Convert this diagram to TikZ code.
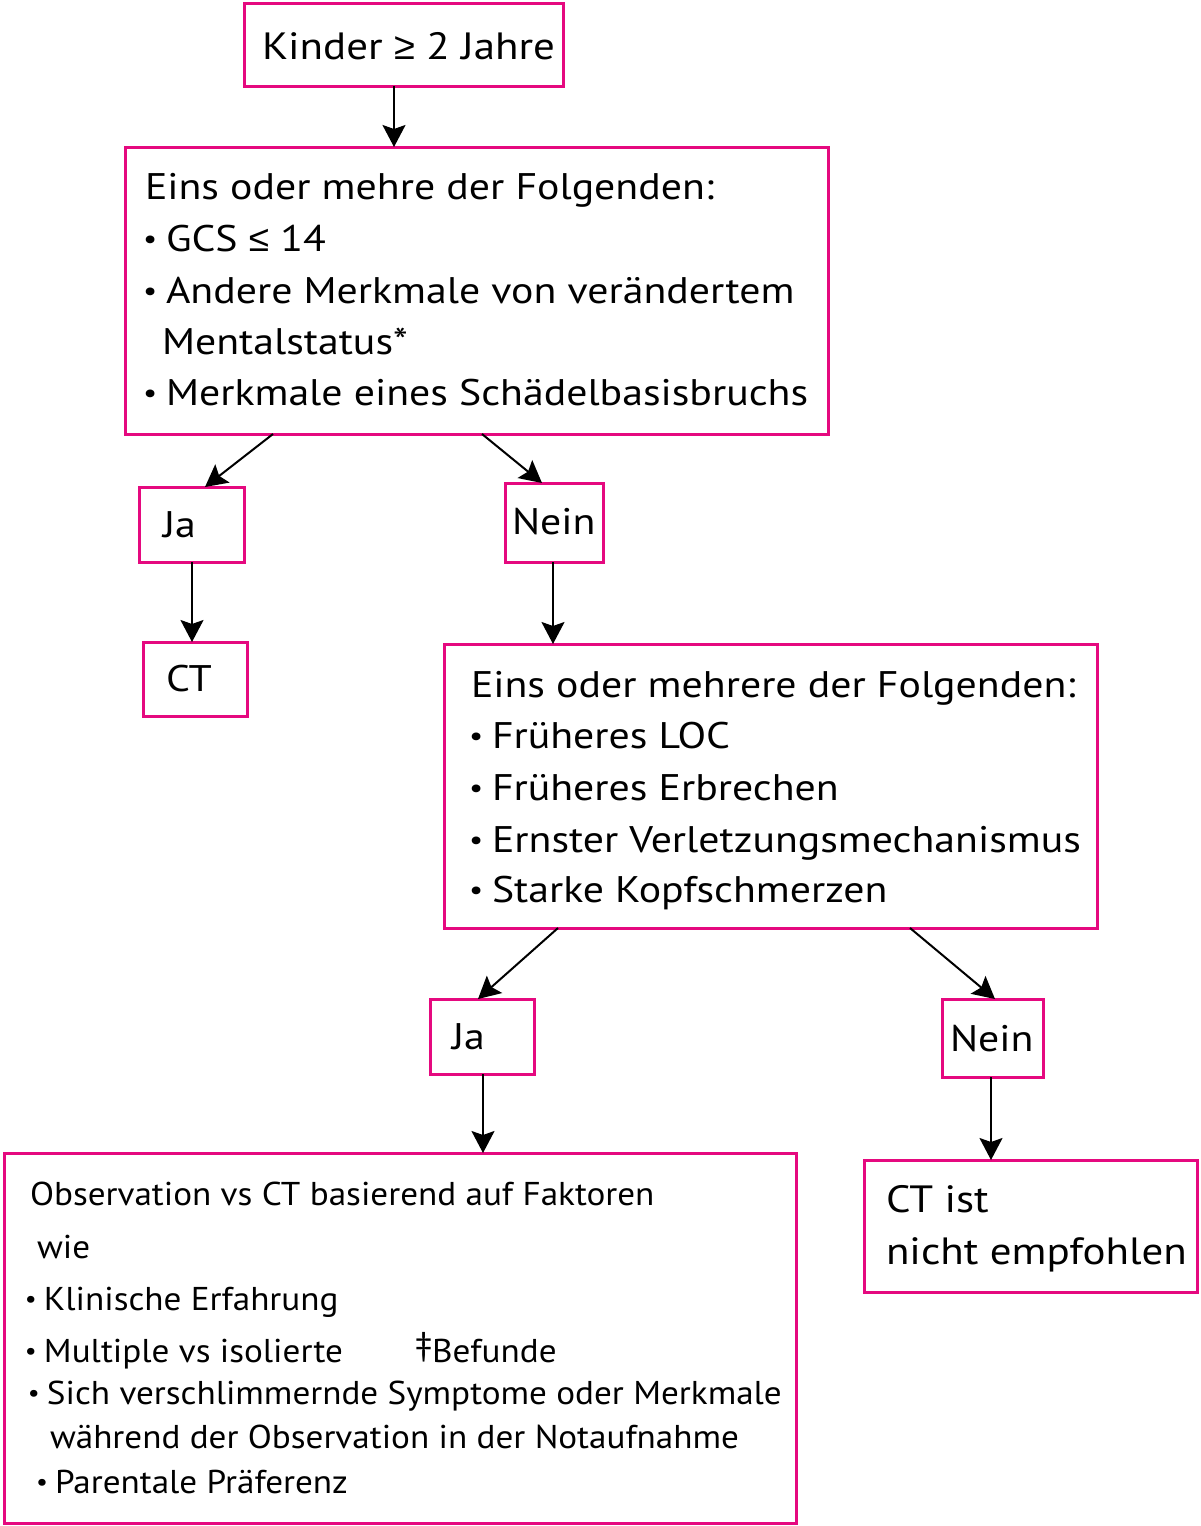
\documentclass[tikz,border=0pt]{standalone}
\usepackage{fontspec}
\setmainfont[FakeStretch=1.13]{PT Sans}
\newfontfamily\smallfont[FakeStretch=1.065]{PT Sans}
\newfontfamily\symfont{Liberation Sans}
\usetikzlibrary{arrows.meta,calc}
\definecolor{mag}{HTML}{E5097F}
\newcommand{\bul}[1]{\makebox[#1][l]{\hspace{-2pt}\raisebox{2.5pt}{\scalebox{0.75}{•}}}}
\begin{document}
\begin{tikzpicture}[x=1pt,y=-1pt,
  box/.style={draw=mag, line width=3pt, rectangle, inner sep=0pt, outer sep=0pt},
  txt/.style={anchor=base west, inner sep=0pt, outer sep=0pt, font=\fontsize{37}{40}\selectfont},
  stxt/.style={anchor=base west, inner sep=0pt, outer sep=0pt, font=\smallfont\fontsize{33}{36}\selectfont},
  arr/.style={draw=black, line width=2pt, -{Stealth[length=22pt,width=23pt,inset=4pt]}}]
\useasboundingbox (0,0) rectangle (1200,1526);
% boxes
\node[box, minimum width=319pt, minimum height=83pt] (b1) at (403.5,44.5) {};
\node[box, minimum width=703pt, minimum height=287pt] (b2) at (476.5,290.5) {};
\node[box, minimum width=105pt, minimum height=75pt] (ja1) at (191.5,524.5) {};
\node[box, minimum width=98pt, minimum height=79pt] (nein1) at (554,522.5) {};
\node[box, minimum width=104pt, minimum height=74pt] (ct) at (195,679) {};
\node[box, minimum width=653pt, minimum height=284pt] (b3) at (770.5,786) {};
\node[box, minimum width=104pt, minimum height=75pt] (ja2) at (482,1036.5) {};
\node[box, minimum width=101pt, minimum height=78pt] (nein2) at (992.5,1038) {};
\node[box, minimum width=792pt, minimum height=370pt] (b4) at (400,1338) {};
\node[box, minimum width=333pt, minimum height=132pt] (b5) at (1030.5,1226) {};
% texts
\node[txt, font=\fontsize{38}{40}\selectfont] (t1) at (262,59) {Kinder {\symfont ≥} 2 Jahre};
\node[txt] (t2a) at (145,199) {Eins oder mehre der Folgenden:};
\node[txt] (t2b) at (145,251) {\bul{21pt}GCS {\symfont ≤} 14};
\node[txt] (t2c) at (145,303) {\bul{21pt}Andere Merkmale von verändertem};
\node[txt] (t2d) at (162,354) {Mentalstatus*};
\node[txt] (t2e) at (145,405) {\bul{21pt}Merkmale eines Schädelbasisbruchs};
\node[txt] (tja1) at (163,537) {Ja};
\node[txt] (tnein1) at (512,534) {Nein};
\node[txt] (tct) at (166,691) {CT};
\node[txt] (t3a) at (471,697) {Eins oder mehrere der Folgenden:};
\node[txt] (t3b) at (471,748) {\bul{21pt}Früheres LOC};
\node[txt] (t3c) at (471,800) {\bul{21pt}Früheres Erbrechen};
\node[txt] (t3d) at (471,852) {\bul{21pt}Ernster Verletzungsmechanismus};
\node[txt] (t3e) at (471,902) {\bul{21pt}Starke Kopfschmerzen};
\node[txt] (tja2) at (452,1049) {Ja};
\node[txt] (tnein2) at (950,1051) {Nein};
\node[stxt] (t4a) at (30,1205) {Observation vs CT basierend auf Faktoren};
\node[stxt] (t4b) at (37,1258) {wie};
\node[stxt] (t4c) at (27,1310) {\bul{17pt}Klinische Erfahrung};
\node[stxt] (t4d) at (27,1362) {\bul{17pt}Multiple vs isolierte};
\node[stxt] (t4e) at (415,1362) {\raisebox{7pt}{‡}Befunde};
\node[stxt] (t4f) at (30,1404) {\bul{17pt}Sich verschlimmernde Symptome oder Merkmale};
\node[stxt] (t4g) at (50,1448) {während der Observation in der Notaufnahme};
\node[stxt] (t4h) at (38,1493) {\bul{17pt}Parentale Präferenz};
\node[txt, font=\fontsize{38}{40}\selectfont] (t5a) at (886,1212) {CT ist};
\node[txt, font=\fontsize{38}{40}\selectfont] (t5b) at (886,1264) {nicht empfohlen};
% arrows
\draw[arr] ($(b1.south west)+(150,0)$) -- ($(b2.north west)+(269,0)$);
\draw[arr] ($(b2.south west)+(148,0)$) -- ($(ja1.north west)+(66,0)$);
\draw[arr] ($(b2.south west)+(357,0)$) -- ($(nein1.north west)+(37,0)$);
\draw[arr] ($(ja1.south west)+(53,0)$) -- ($(ct.north west)+(49,0)$);
\draw[arr] ($(nein1.south west)+(48,0)$) -- ($(b3.north west)+(109,0)$);
\draw[arr] ($(b3.south west)+(114,0)$) -- ($(ja2.north west)+(48,0)$);
\draw[arr] ($(b3.south west)+(466,0)$) -- ($(nein2.north west)+(53,0)$);
\draw[arr] ($(ja2.south west)+(53,0)$) -- ($(b4.north west)+(479,0)$);
\draw[arr] ($(nein2.south west)+(49,0)$) -- ($(b5.north west)+(127,0)$);
\end{tikzpicture}
\end{document}
